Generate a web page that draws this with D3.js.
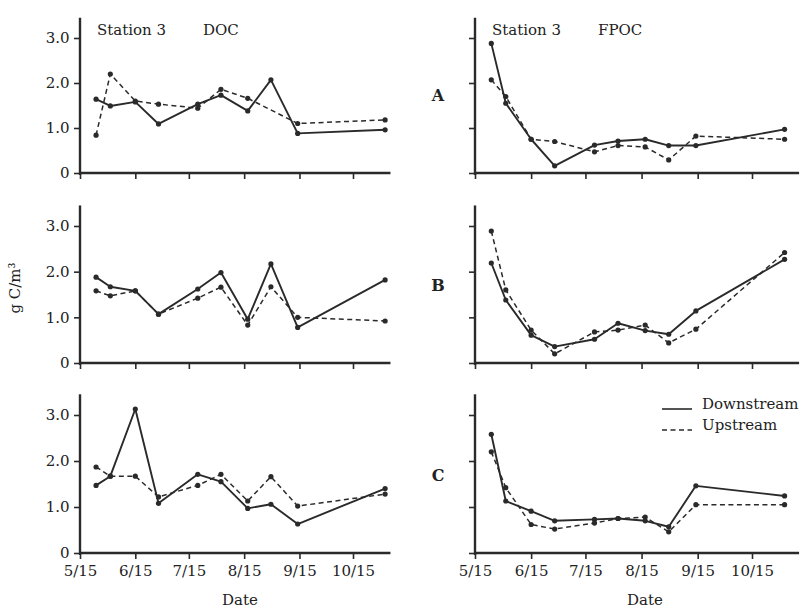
<!DOCTYPE html>
<html>
<head>
<meta charset="utf-8">
<script src="https://cdn.jsdelivr.net/npm/d3@7"></script>
<style>
  body { margin: 0; background: #fff; }
  text { font-family: "DejaVu Serif", serif; fill: #222; }
</style>
</head>
<body>
<div id="chart"></div>
<script>
// sampling dates (month/day) and axis ticks
const sampleDates = ["5/24", "6/1", "6/15", "6/28", "7/20", "8/2", "8/17", "8/30", "9/14", "11/2"];
const xTickLabels = ["5/15", "6/15", "7/15", "8/15", "9/15", "10/15"];
const yTickValues = [0, 1, 2, 3];
const rowLetters = ["A", "B", "C"];

// DOC, g C/m3 (null = no sample)
const docDownA = [1.64, 1.49, 1.58, 1.09, 1.53, 1.73, 1.38, 2.07, 0.88, 0.96];
const docUpA   = [0.84, 2.20, 1.60, 1.53, 1.44, 1.86, 1.66, null, 1.10, 1.18];
const docDownB = [1.88, 1.67, 1.58, 1.07, 1.62, 1.98, 0.96, 2.17, 0.78, 1.82];
const docUpB   = [1.58, 1.47, 1.58, 1.07, 1.42, 1.66, 0.83, 1.67, 1.00, 0.92];
const docDownC = [1.47, 1.67, 3.13, 1.08, 1.71, 1.55, 0.97, 1.06, 0.63, 1.40];
const docUpC   = [1.87, 1.67, 1.67, 1.22, 1.47, 1.71, 1.13, 1.66, 1.02, 1.28];

// FPOC, g C/m3
const fpocDownA = [2.88, 1.55, 0.75, 0.16, 0.62, 0.71, 0.75, 0.61, 0.61, 0.97];
const fpocUpA   = [2.07, 1.70, 0.75, 0.70, 0.47, 0.61, 0.58, 0.29, 0.82, 0.75];
const fpocDownB = [2.19, 1.38, 0.61, 0.36, 0.52, 0.87, 0.71, 0.63, 1.14, 2.27];
const fpocUpB   = [2.89, 1.60, 0.72, 0.20, 0.68, 0.72, 0.83, 0.44, 0.74, 2.42];
const fpocDownC = [2.58, 1.13, 0.91, 0.70, 0.73, 0.75, 0.70, 0.57, 1.46, 1.24];
const fpocUpC   = [2.20, 1.42, 0.62, 0.52, 0.65, 0.75, 0.78, 0.46, 1.05, 1.05];

const docSeries = [[docDownA, docUpA], [docDownB, docUpB], [docDownC, docUpC]];
const fpocSeries = [[fpocDownA, fpocUpA], [fpocDownB, fpocUpB], [fpocDownC, fpocUpC]];

drawFigure("#chart");

function drawFigure(sel) {
  var width = 804, height = 608;
  var svg = d3.select(sel).append("svg")
    .attr("width", width)
    .attr("height", height);

  const toDate = s => { const p = s.split("/"); return new Date(1977, +p[0] - 1, +p[1]); };
  const dates = sampleDates.map(toDate);
  const tickDates = xTickLabels.map(toDate);
  const fmt = d3.timeFormat("%-m/%-d");

  // panel layout: zero line and 3.0 line per row, column origins
  const rows = [{ zero: 173, three: 38 }, { zero: 363, three: 226 }, { zero: 553, three: 415 }];
  const cols = [
    { x0: 80, x10: 353, xEnd: toDate("11/5"), title: "DOC", series: docSeries, labels: true },
    { x0: 475, x10: 752, xEnd: toDate("11/10"), title: "FPOC", series: fpocSeries, labels: false }
  ];

  const ink = "#2a2a2a";

  cols.forEach(function(col, ci) {
    const x = d3.scaleTime()
      .domain([tickDates[0], tickDates[5]])
      .range([col.x0, col.x10]);

    rows.forEach(function(row, ri) {
      const y = d3.scaleLinear().domain([0, 3]).range([row.zero, row.three]);
      const g = svg.append("g");

      // x axis
      const xAxis = d3.axisBottom(x)
        .tickValues(tickDates)
        .tickSize(6)
        .tickFormat(ri === 2 ? fmt : "");
      const gx = g.append("g")
        .attr("transform", "translate(0," + row.zero + ")")
        .call(xAxis);
      gx.select(".domain").remove();
      gx.selectAll(".tick line").attr("stroke", ink).attr("stroke-width", 1.6);
      gx.selectAll(".tick text")
        .attr("font-size", 15)
        .attr("font-family", "DejaVu Serif")
        .attr("fill", "#222")
        .attr("dy", "0.9em");
      g.append("line")
        .attr("x1", col.x0 - 1).attr("x2", x(col.xEnd))
        .attr("y1", row.zero).attr("y2", row.zero)
        .attr("stroke", ink).attr("stroke-width", 2.4);

      // y axis
      const yAxis = d3.axisLeft(y)
        .tickValues(yTickValues)
        .tickSize(6)
        .tickFormat(col.labels ? (d => d === 0 ? "0" : d.toFixed(1)) : "");
      const gy = g.append("g")
        .attr("transform", "translate(" + col.x0 + ",0)")
        .call(yAxis);
      gy.select(".domain").remove();
      gy.selectAll(".tick line").attr("stroke", ink).attr("stroke-width", 1.6);
      gy.selectAll(".tick text")
        .attr("font-size", 15)
        .attr("font-family", "DejaVu Serif")
        .attr("fill", "#222")
        .attr("dx", "-0.1em");
      g.append("line")
        .attr("x1", col.x0).attr("x2", col.x0)
        .attr("y1", row.zero + 2).attr("y2", y(3.45))
        .attr("stroke", ink).attr("stroke-width", 2.4);

      // lines: downstream solid, upstream dashed
      col.series[ri].forEach(function(vals, si) {
        const pts = dates.map((d, i) => ({ d: d, v: vals[i] })).filter(p => p.v != null);
        const line = d3.line().x(p => x(p.d)).y(p => y(p.v));
        g.append("path")
          .datum(pts)
          .attr("d", line)
          .attr("fill", "none")
          .attr("stroke", ink)
          .attr("stroke-width", si === 0 ? 1.9 : 1.5)
          .attr("stroke-dasharray", si === 0 ? null : "5,3.5")
          .attr("stroke-linejoin", "round");
        g.selectAll(".dot" + si)
          .data(pts)
          .enter()
          .append("circle")
          .attr("cx", p => x(p.d))
          .attr("cy", p => y(p.v))
          .attr("r", 2.6)
          .attr("fill", ink);
      });

      // titles on top row
      if (ri === 0) {
        g.append("text")
          .attr("x", col.x0 + 17).attr("y", 35)
          .attr("font-size", 15)
          .text("Station 3");
        g.append("text")
          .attr("x", col.x0 + 123).attr("y", 35)
          .attr("font-size", 15)
          .text(col.title);
      }
      // panel letters
      if (ci === 1) {
        g.append("text")
          .attr("x", 438).attr("y", row.zero - 72)
          .attr("text-anchor", "middle")
          .attr("font-size", 16)
          .attr("font-weight", "bold")
          .text(rowLetters[ri]);
      }
    });

    // x axis title
    svg.append("text")
      .attr("x", ci === 0 ? 240 : 645).attr("y", 605)
      .attr("text-anchor", "middle")
      .attr("font-size", 15)
      .text("Date");
  });

  // y axis title
  svg.append("text")
    .attr("transform", "translate(20,288) rotate(-90)")
    .attr("text-anchor", "middle")
    .attr("font-size", 15)
    .text("g C/m³");

  // legend
  const legend = svg.append("g").attr("transform", "translate(662,0)");
  const legendItems = ["Downstream", "Upstream"];
  legendItems.forEach(function(name, i) {
    const ly = 409 + i * 21;
    legend.append("line")
      .attr("x1", 0).attr("x2", 30)
      .attr("y1", ly).attr("y2", ly)
      .attr("stroke", ink)
      .attr("stroke-width", 1.6)
      .attr("stroke-dasharray", i === 0 ? null : "5,3.5");
    legend.append("text")
      .attr("x", 40).attr("y", ly)
      .attr("font-size", 15)
      .text(name);
  });
}
</script>
</body>
</html>
